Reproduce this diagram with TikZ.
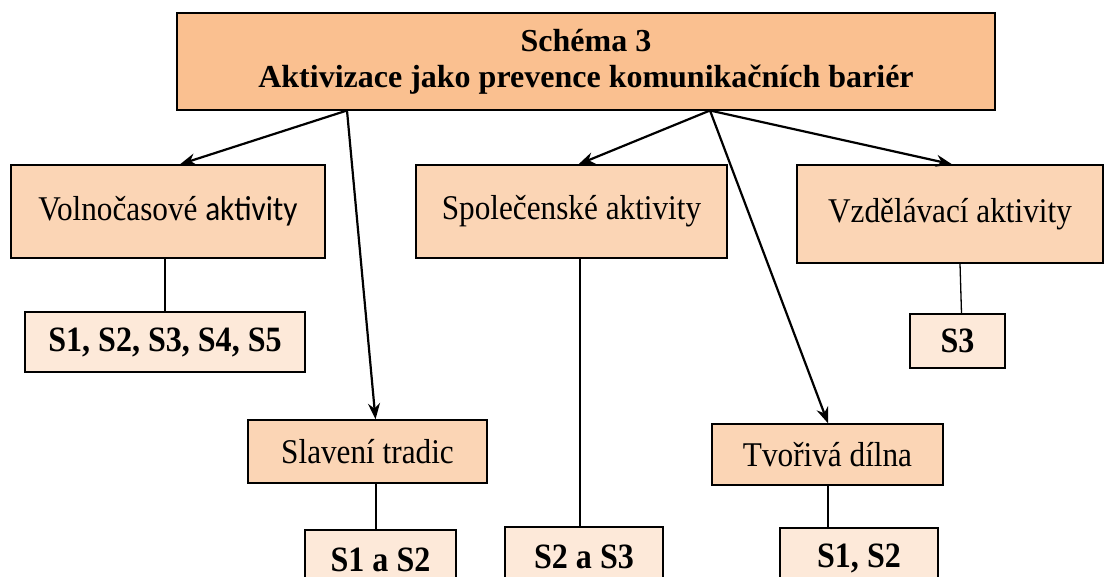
\documentclass[tikz,border=0pt]{standalone}
\usepackage{fontspec}
\setmainfont[FakeStretch=0.9]{Liberation Serif}
\newfontfamily\titlefont{Liberation Serif}
\newfontfamily\calfont[FakeStretch=0.9]{Carlito}
\usetikzlibrary{calc,arrows.meta}
\definecolor{headfill}{HTML}{FAC090}
\definecolor{catfill}{HTML}{FBD5B5}
\definecolor{subfill}{HTML}{FDE9D9}
\tikzset{
  box/.style={draw=black, line width=1.4pt, inner sep=0pt, anchor=center, align=center},
  headbox/.style={box, fill=headfill, font=\titlefont\bfseries\fontsize{32}{36}\selectfont},
  catbox/.style={box, fill=catfill, font=\fontsize{34.7}{38}\selectfont},
  subbox/.style={box, fill=subfill, font=\bfseries\fontsize{35.6}{38}\selectfont},
  arr/.style={line width=2.2pt, -{Stealth[length=16pt,width=12pt]}},
  link/.style={line width=1.3pt},
}
\begin{document}
\begin{tikzpicture}[x=1pt, y=-1pt]
  \useasboundingbox (0,0) rectangle (1105,577);
  \clip (0,0) rectangle (1105,577);

  % header
  \node[headbox, minimum width=818pt, minimum height=97pt] (top) at (586,61.5)
    {Schéma 3\\Aktivizace jako prevence komunikačních bariér};

  % categories
  \node[catbox, minimum width=314pt, minimum height=93pt] (vol) at (168,211.5)
    {Volnočasové {\calfont aktivity}};
  \node[catbox, minimum width=311pt, minimum height=93pt] (spol) at (571.5,211.5)
    {Společenské aktivity};
  \node[catbox, minimum width=306pt, minimum height=98pt] (vzd) at (950,214)
    {Vzdělávací aktivity};
  \node[catbox, minimum width=239pt, minimum height=63pt] (slav) at (367.5,451.5)
    {Slavení tradic};
  \node[catbox, minimum width=231pt, minimum height=61pt] (tvor) at (827.5,454.5)
    {Tvořivá dílna};

  % participants
  \node[subbox, minimum width=280pt, minimum height=60pt] (s15) at (165,342)
    {S1, S2, S3, S4, S5};
  \node[subbox, minimum width=95pt, minimum height=54pt] (s3) at (957.5,341)
    {S3};
  \node[subbox, minimum width=151pt, minimum height=60pt] (s12a) at (380.5,560)
    {S1 a S2};
  \node[subbox, minimum width=158pt, minimum height=60pt] (s23) at (584,557)
    {S2 a S3};
  \node[subbox, minimum width=158pt, minimum height=60pt] (s12b) at (859,558)
    {S1, S2};

  % arrows from the header
  \coordinate (hl) at (347,110.5);
  \coordinate (hr) at (710,110.5);
  \draw[arr] (hl) -- ($(vol.north)+(12,0)$);
  \draw[arr] (hl) -- ($(slav.north)+(8,0)$);
  \draw[arr] (hr) -- ($(spol.north)+(7,0)$);
  \draw[arr] (hr) -- ($(tvor.north)+(0.5,0)$);
  \draw[arr] (hr) -- ($(vzd.north)+(2,0)$);

  % plain links to participants
  \draw[link] ($(vol.south)+(-3,0)$) -- ($(s15.north)+(0,0)$);
  \draw[link] ($(spol.south)+(8.5,0)$) -- ($(s23.north)+(-4,0)$);
  \draw[link] ($(vzd.south)+(10,0)$) -- ($(s3.north)+(4,0)$);
  \draw[link] ($(slav.south)+(8.5,0)$) -- ($(s12a.north)+(-4.5,0)$);
  \draw[link] ($(tvor.south)+(0.5,0)$) -- ($(s12b.north)+(-31,0)$);
\end{tikzpicture}
\end{document}
